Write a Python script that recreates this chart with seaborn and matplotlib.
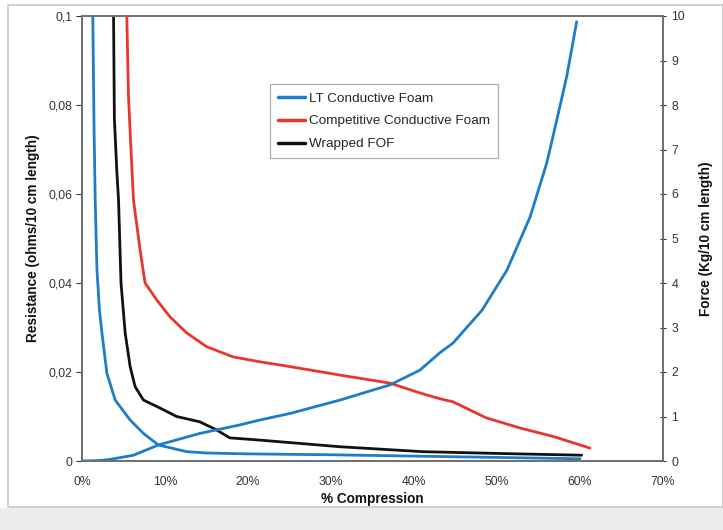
import matplotlib
matplotlib.use("Agg")
import matplotlib.pyplot as plt
import seaborn as sns
from matplotlib.patches import Rectangle
from matplotlib.ticker import FuncFormatter

# ---- data (compression in %, resistance in ohms/10 cm, force in kg/10 cm) ----
lt_res_x = [1.3, 1.45, 1.6, 1.8, 2.1, 2.4, 3.0, 4.0, 5.8, 7.4, 9.2, 12.6, 15, 20, 30, 40, 50, 60]
lt_res_y = [0.100, 0.075, 0.058, 0.043, 0.034, 0.0288, 0.0197, 0.0137, 0.0092, 0.0062, 0.0036, 0.0021,
            0.0018, 0.0016, 0.0014, 0.0011, 0.0008, 0.0005]

lt_force_x = [0, 2, 3.2, 6.2, 9.2, 14.2, 19.0, 21.4, 25.1, 31.1, 37.1, 40.7, 43.1, 44.7, 48.2, 51.2,
              54.0, 56.0, 57.2, 58.4, 59.6]
lt_force_y = [0, 0.01, 0.03, 0.13, 0.36, 0.62, 0.81, 0.92, 1.07, 1.37, 1.71, 2.04, 2.43, 2.65, 3.39, 4.29,
              5.49, 6.70, 7.66, 8.64, 9.87]

comp_x = [5.4, 5.6, 5.9, 6.2, 7.0, 7.6, 9.0, 10.6, 12.6, 15.0, 18.2, 21.4, 25.1, 31.1, 37.1, 40.7,
          43.1, 44.7, 48.7, 52.8, 56.8, 61.2]
comp_y = [0.100, 0.082, 0.070, 0.0587, 0.0474, 0.040, 0.0362, 0.0324, 0.0288, 0.0257, 0.0234, 0.0223,
          0.0212, 0.0193, 0.0175, 0.0153, 0.0140, 0.0133, 0.0097, 0.0074, 0.0055, 0.0029]

fof_x = [3.8, 3.9, 4.2, 4.4, 4.7, 5.2, 5.8, 6.4, 7.4, 9.4, 11.4, 14.2, 16.2, 17.8, 21.4, 31.1, 41.0,
         50.0, 60.2]
fof_y = [0.100, 0.077, 0.065, 0.0587, 0.040, 0.0288, 0.0212, 0.0167, 0.0137, 0.0119, 0.0100, 0.0088,
         0.0070, 0.0052, 0.0047, 0.0032, 0.0021, 0.0017, 0.0013]

series_names = ["LT Conductive Foam", "Competitive Conductive Foam", "Wrapped FOF"]
x_ticks = [0, 10, 20, 30, 40, 50, 60, 70]
res_ticks = [0, 0.02, 0.04, 0.06, 0.08, 0.1]
force_ticks = list(range(0, 11))

BLUE = "#1f7cc6"
RED = "#e8362c"
BLACK = "#111111"

sns.set_style("white")
plt.rcParams["font.family"] = ["Liberation Sans", "DejaVu Sans"]

fig = plt.figure(figsize=(7.23, 5.30), dpi=100)
W, H = 723, 530
ax = fig.add_axes([82 / W, 1 - 461 / H, (663 - 82) / W, (461 - 16) / H])
ax2 = ax.twinx()

lw = 2.0
sns.lineplot(x=lt_res_x, y=lt_res_y, ax=ax, color=BLUE, lw=lw, label=series_names[0], sort=False)
sns.lineplot(x=comp_x, y=comp_y, ax=ax, color=RED, lw=lw, label=series_names[1], sort=False)
sns.lineplot(x=fof_x, y=fof_y, ax=ax, color=BLACK, lw=lw, label=series_names[2], sort=False)
sns.lineplot(x=lt_force_x, y=lt_force_y, ax=ax2, color=BLUE, lw=lw, sort=False, legend=False)

ax.set_xlim(0, 70)
ax.set_ylim(0, 0.1)
ax2.set_ylim(0, 10)
ax.set_xticks(x_ticks)
ax.set_yticks(res_ticks)
ax2.set_yticks(force_ticks)
ax.xaxis.set_major_formatter(FuncFormatter(lambda v, p: f"{v:.0f}%"))
ax.yaxis.set_major_formatter(FuncFormatter(lambda v, p: "0" if v == 0 else f"{v:g}".replace(".", ",")))
ax2.yaxis.set_major_formatter(FuncFormatter(lambda v, p: f"{v:.0f}"))

for a in (ax, ax2):
    for s in a.spines.values():
        s.set_color("#707070")
        s.set_linewidth(1.3)

tick_kw = dict(labelsize=8.8, colors="#333333", length=4, width=0.8)
ax.tick_params(axis="x", direction="out", pad=7, **tick_kw)
ax.tick_params(axis="y", direction="out", pad=3, **tick_kw)
ax2.tick_params(axis="y", direction="inout", pad=4, **tick_kw)
for a in (ax, ax2):
    for t in a.get_xticklabels() + a.get_yticklabels():
        t.set_color("#333333")

ax.set_xlabel("% Compression", fontsize=9.8, fontweight="bold", labelpad=3, color="#111111")
ax.set_ylabel("Resistance (ohms/10 cm length)", fontsize=9.8, fontweight="bold", labelpad=6, color="#111111")
ax2.set_ylabel("Force (Kg/10 cm length)", fontsize=9.8, fontweight="bold", labelpad=10, color="#111111")

leg = ax.legend(loc="upper left", bbox_to_anchor=((270 - 82) / 581, (461 - 84) / 445),
                frameon=True, fancybox=False, fontsize=9.7, handlelength=2.0, handletextpad=0.3,
                borderpad=0.6, labelspacing=0.78, borderaxespad=0)
leg.get_frame().set_edgecolor("#999999")
leg.get_frame().set_linewidth(0.9)
for h in leg.get_lines():
    h.set_linewidth(2.5)

# screenshot-style frame around the chart
fig.patches.append(Rectangle((8 / W, 1 - 507 / H), (W - 8) / W, (507 - 5) / H, transform=fig.transFigure,
                             fill=False, edgecolor="#c8c8c8", linewidth=1.2, zorder=-1))
fig.patches.append(Rectangle((0, 0), 1, (H - 508) / H, transform=fig.transFigure,
                             facecolor="#ececec", edgecolor="none", zorder=-2))

fig.savefig("out.png", dpi=100)
